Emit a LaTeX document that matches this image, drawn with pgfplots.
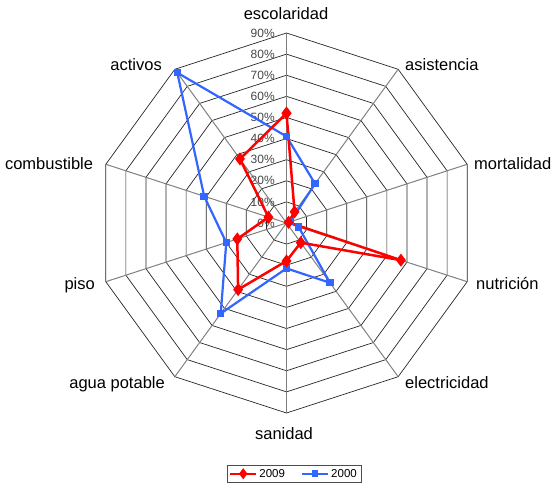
\documentclass[border=0pt]{standalone}
\usepackage{fontspec}
\setmainfont{Liberation Sans}
\usepackage{pgfplots}
\pgfplotsset{compat=1.18}
\usepgfplotslibrary{polar}
\definecolor{rred}{RGB}{255,0,0}
\definecolor{bblue}{RGB}{51,102,255}
\definecolor{pctgray}{RGB}{70,70,70}
\begin{document}
\begin{tikzpicture}[x=1pt,y=1pt]
\useasboundingbox (0,0) rectangle (552,484);
\begin{axis}[
  at={(286.5pt,261pt)}, anchor=origin,
  x=2.111pt, y=2.111pt,
  xmin=-95, xmax=95, ymin=-95, ymax=95,
  hide axis, clip=false,
  legend style={at={(axis cs:3.5,-114.5)}, anchor=north, draw=black!70, line width=0.6pt,
    font=\fontsize{11.5}{13}\selectfont, inner sep=2pt,
    /tikz/every even column/.append style={column sep=14pt}},
  legend columns=2,
  legend image code/.code={\draw[mark repeat=2,mark phase=2] plot coordinates {(0pt,0pt) (13pt,0pt) (26pt,0pt)};},
]
% grid rings
\pgfplotsinvokeforeach{10,20,30,40,50,60,70,80,90}{
  \addplot[data cs=polar, black!85, line width=0.7pt, forget plot] coordinates {
    (90,#1) (54,#1) (18,#1) (-18,#1) (-54,#1) (-90,#1) (-126,#1) (-162,#1) (162,#1) (126,#1) (90,#1)};
}
% spokes
\pgfplotsinvokeforeach{90,54,18,-18,-54,-90,-126,-162,162,126}{
  \addplot[data cs=polar, black!50, line width=1pt, forget plot] coordinates {(#1,0) (#1,90)};
}
% percent labels
\pgfplotsinvokeforeach{0,10,20,30,40,50,60,70,80,90}{
  \node[anchor=east, inner sep=0pt, text=pctgray, font=\fontsize{12}{13}\selectfont] at (axis cs:-5.5,#1) {#1\%};
}
\addlegendimage{rred, line width=2.5pt, mark=diamond*, mark size=3.5pt}
\addlegendentry{2009}
\addlegendimage{bblue, line width=2.2pt, mark=square*, mark size=2.2pt}
\addlegendentry{2000}
% 2000
\addplot[data cs=polar, bblue, line width=2.2pt, mark=square*, mark size=2.6pt, forget plot] coordinates {
  (90,41) (54,23) (18,2) (-18,6) (-54,35) (-90,21.5) (-126,53) (-162,30) (162,41) (126,88) (90,41)};
% 2009
\addplot[data cs=polar, rred, line width=2.5pt, mark=diamond*, mark size=4.5pt, forget plot] coordinates {
  (90,52) (54,6.5) (18,1) (-18,57) (-54,11.5) (-90,18) (-126,39) (-162,24.5) (162,9) (126,37.5) (90,52)};
\end{axis}
\begin{scope}[every node/.style={inner sep=0pt, text height=11.5pt, text depth=3pt, font=\fontsize{16.5}{19}\selectfont}]
\node[anchor=center] at (286,469) {escolaridad};
\node[anchor=west] at (405,417.3) {asistencia};
\node[anchor=west] at (474,319) {mortalidad};
\node[anchor=west] at (476,199) {nutrición};
\node[anchor=west] at (405,100) {electricidad};
\node[anchor=center] at (284,48.3) {sanidad};
\node[anchor=east] at (165,100) {agua potable};
\node[anchor=east] at (95,198.3) {piso};
\node[anchor=east] at (93.3,319) {combustible};
\node[anchor=east] at (162,417.3) {activos};
\end{scope}
\end{tikzpicture}
\end{document}
